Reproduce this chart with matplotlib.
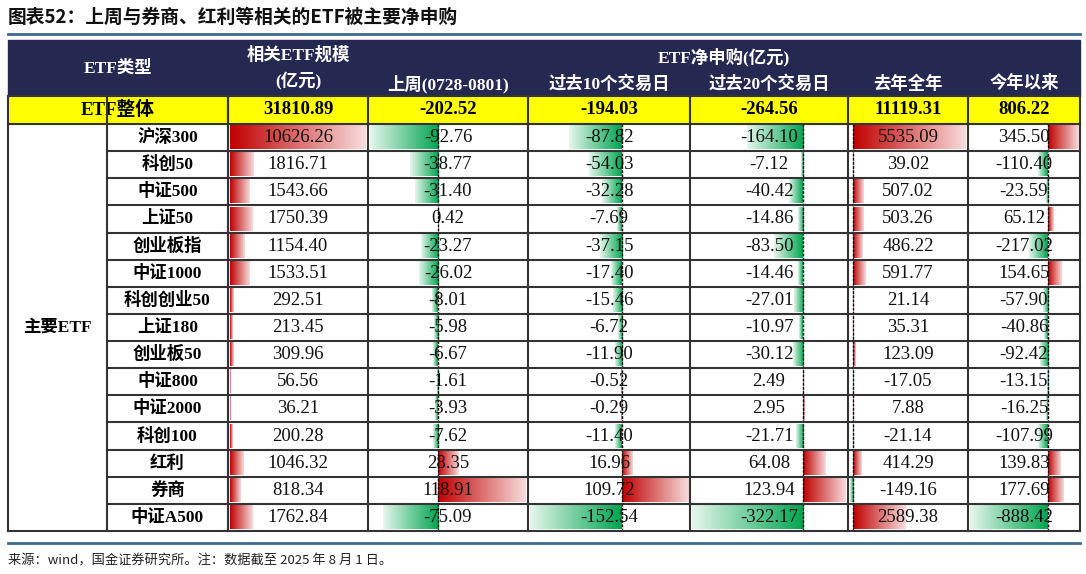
import numpy as np
import matplotlib
matplotlib.use("Agg")
import matplotlib.pyplot as plt
from matplotlib.colors import LinearSegmentedColormap

title = "图表52：上周与券商、红利等相关的ETF被主要净申购"
footer = "来源：wind，国金证券研究所。注：数据截至 2025 年 8 月 1 日。"
group_label = "主要ETF"
total_label = "ETF整体"
total_values = ["31810.89", "-202.52", "-194.03", "-264.56", "11119.31", "806.22"]
names = ["沪深300", "科创50", "中证500", "上证50", "创业板指", "中证1000", "科创创业50", "上证180",
         "创业板50", "中证800", "中证2000", "科创100", "红利", "券商", "中证A500"]
size = [10626.26, 1816.71, 1543.66, 1750.39, 1154.40, 1533.51, 292.51, 213.45, 309.96, 56.56, 36.21, 200.28, 1046.32, 818.34, 1762.84]
last_week = [-92.76, -38.77, -31.40, 0.42, -23.27, -26.02, -8.01, -5.98, -6.67, -1.61, -3.93, -7.62, 28.35, 118.91, -75.09]
d10 = [-87.82, -54.03, -32.28, -7.69, -37.15, -17.40, -15.46, -6.72, -11.90, -0.52, -0.29, -11.40, 16.96, 109.72, -152.54]
d20 = [-164.10, -7.12, -40.42, -14.86, -83.50, -14.46, -27.01, -10.97, -30.12, 2.49, 2.95, -21.71, 64.08, 123.94, -322.17]
last_year = [5535.09, 39.02, 507.02, 503.26, 486.22, 591.77, 21.14, 35.31, 123.09, -17.05, 7.88, -21.14, 414.29, -149.16, 2589.38]
ytd = [345.50, -110.40, -23.59, 65.12, -217.02, 154.65, -57.90, -40.86, -92.42, -13.15, -16.25, -107.99, 139.83, 177.69, -888.42]
header_top = ["ETF类型", "相关ETF规模\n(亿元)", "ETF净申购(亿元)"]
header_sub = ["上周(0728-0801)", "过去10个交易日", "过去20个交易日", "去年全年", "今年以来"]

W, H = 1086, 574
fig = plt.figure(figsize=(W/100, H/100), dpi=100)
ax = fig.add_axes([0, 0, 1, 1])
ax.set_xlim(0, W); ax.set_ylim(H, 0); ax.axis("off")

SERIF = ["Liberation Serif", "Noto Sans CJK SC"]
CJK = ["Noto Sans CJK SC"]
navy = "#252952"
xs = [8, 107, 228, 368, 528, 690, 848, 968, 1080]
yh0, yh1, yh2 = 40, 70, 96
ytot1 = 124
ybot = 531
nr = len(names)
rh = (ybot - ytot1) / nr

ax.text(8, 17, title, fontsize=13.5, family=CJK, style="italic", fontweight="bold", va="center", ha="left", color="#111")
ax.plot([8, 1080], [34, 34], color="#3d6a8f", lw=2)
ax.plot([8, 1080], [543, 543], color="#3d6a8f", lw=2)
ax.text(8, 561, footer, fontsize=9.5, family=CJK, va="center", ha="left", color="#222")

# header
ax.add_patch(plt.Rectangle((xs[0], yh0), xs[-1]-xs[0], yh2-yh0, color=navy, zorder=1))
hk = dict(color="white", fontsize=12.5, fontweight="bold", family=SERIF, va="center", ha="center", zorder=3)
ax.text((xs[0]+xs[2])/2, (yh0+yh2)/2, header_top[0], **hk)
ax.text((xs[2]+xs[3])/2, (yh0+yh2)/2, header_top[1], linespacing=1.6, **hk)
ax.text((xs[3]+xs[-1])/2, (yh0+yh1)/2+2, header_top[2], **hk)
for i, s in enumerate(header_sub):
    ax.text((xs[3+i]+xs[4+i])/2, (yh1+yh2)/2+1, s, **hk)

# total row
ax.add_patch(plt.Rectangle((xs[0], yh2), xs[-1]-xs[0], ytot1-yh2, color="#ffff00", zorder=1))
tk = dict(color="black", fontsize=13.5, fontweight="bold", family=SERIF, va="center", ha="center", zorder=3)
ax.text((xs[0]+xs[2])/2, (yh2+ytot1)/2, total_label, **tk)
for i, v in enumerate(total_values):
    ax.text((xs[2+i]+xs[3+i])/2, (yh2+ytot1)/2, v, **tk)

red_cm = LinearSegmentedColormap.from_list("r", ["#c00000", "#f8dcdc"])
green_cm = LinearSegmentedColormap.from_list("g", ["#00a550", "#e6f6ec"])
grad = np.linspace(0, 1, 256).reshape(1, -1)

def bar(x_from, x_to, y0, y1, cm):
    if abs(x_to - x_from) < 0.5:
        x_to = x_from + (0.5 if x_to >= x_from else -0.5)
    g = grad if x_to >= x_from else grad[:, ::-1]
    ax.imshow(g, cmap=cm, extent=(min(x_from, x_to), max(x_from, x_to), y1, y0),
              aspect="auto", zorder=2, interpolation="bilinear")

cols = [size, last_week, d10, d20, last_year, ytd]
for c, vals in enumerate(cols):
    x0, x1 = xs[2+c]+2, xs[3+c]-2
    mn, mx = min(vals), max(vals)
    if mn >= 0:
        axis = x0; scale = (x1-x0)/mx
    else:
        scale = (x1-x0)/(mx-mn); axis = x0 - mn*scale
    for r, v in enumerate(vals):
        y0 = ytot1 + r*rh + 2; y1 = ytot1 + (r+1)*rh - 2
        if v >= 0:
            bar(axis, axis + v*scale, y0, y1, red_cm)
        else:
            bar(axis, axis + v*scale, y0, y1, green_cm)
        ax.text((xs[2+c]+xs[3+c])/2, (y0+y1)/2, f"{v:.2f}", fontsize=13.5, family=SERIF,
                va="center", ha="center", zorder=4, color="#111")
    if mn < 0:
        ax.plot([axis, axis], [ytot1, ybot], color="black", lw=1, ls=(0, (2, 1)), zorder=3)

for r, n in enumerate(names):
    ax.text((xs[1]+xs[2])/2, ytot1+(r+0.5)*rh, n, fontsize=12.5, fontweight="bold", family=SERIF,
            va="center", ha="center", zorder=4)
ax.text((xs[0]+xs[1])/2, (ytot1+ybot)/2, group_label, fontsize=12.5, fontweight="bold", family=SERIF,
        va="center", ha="center", zorder=4)

# grid lines
lc = "#333333"
for r in range(nr+1):
    y = ytot1 + r*rh
    ax.plot([xs[1] if 0 < r < nr else xs[0], xs[-1]], [y, y], color=lc, lw=1.5, zorder=5)
ax.plot([xs[0], xs[-1]], [yh2, yh2], color=lc, lw=1.5, zorder=5)
for i, x in enumerate(xs):
    ax.plot([x, x], [yh2, ybot], color=lc, lw=1.5, zorder=5) if i != 2 or True else None
ax.plot([xs[2], xs[2]], [yh2, ytot1], color=lc, lw=1.5, zorder=5)

fig.savefig("out.png", dpi=100)
